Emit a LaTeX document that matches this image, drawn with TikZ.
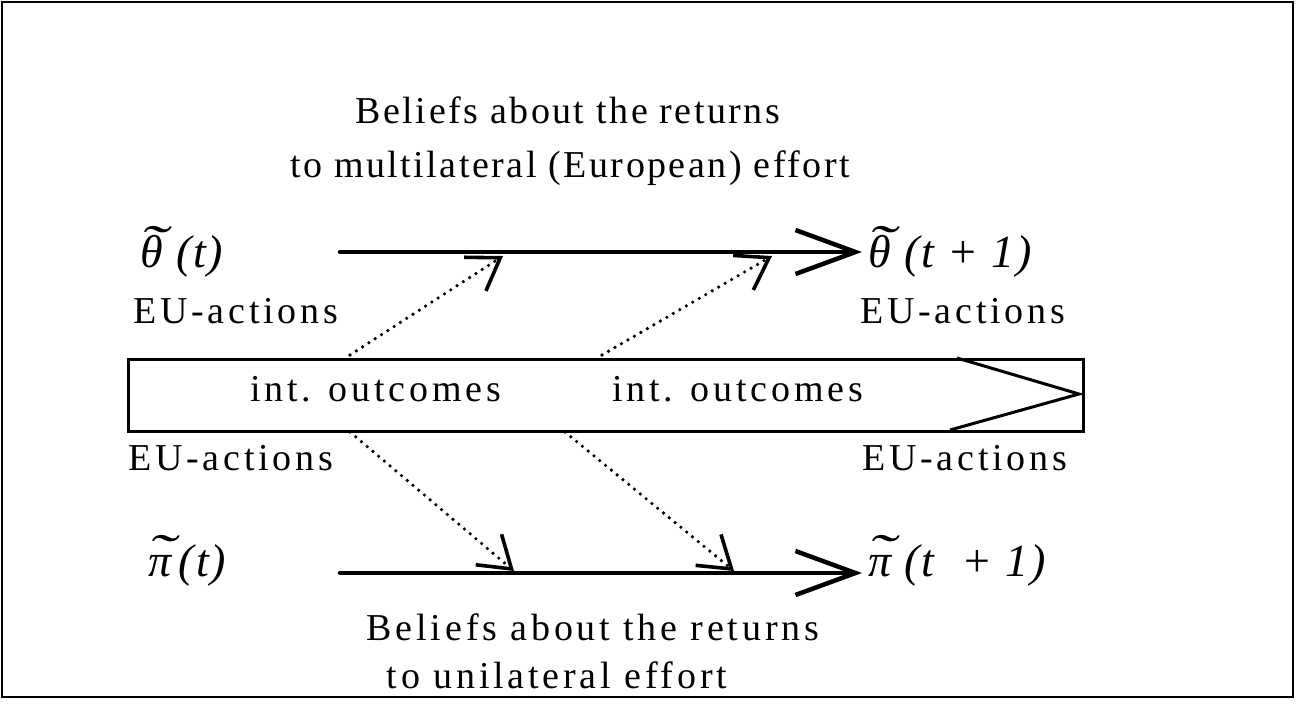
\documentclass[tikz,border=0pt]{standalone}
\usepackage{fontspec}
\setmainfont{Liberation Serif}
\newfontfamily\spc[LetterSpace=10]{Liberation Serif}
\newfontfamily\spcA[LetterSpace=6.5]{Liberation Serif}
\newfontfamily\spcB[LetterSpace=10]{Liberation Serif}
\newfontfamily\spcit[LetterSpace=4]{Liberation Serif Italic}
\usetikzlibrary{arrows.meta}
\newcommand\tld[1]{\ooalign{#1\cr\hidewidth\kern0.08em\raisebox{0.14em}{\scalebox{1.8}[1.1]{\char"02DC}}\hidewidth\cr}}
\tikzset{
  txt/.style={inner sep=0pt, anchor=base west, font=\fontsize{38}{44}\selectfont\spc},
  ctxt/.style={inner sep=0pt, anchor=base, font=\fontsize{38}{44}\selectfont\spc},
  sym/.style={inner sep=0pt, anchor=base west, font=\fontsize{46}{50}\selectfont\spcit},
  mainarrow/.style={line width=4.5pt, line cap=round, -{Straight Barb[length=60pt,width=44pt]}},
  dotarrow/.style={line width=3.6pt, line cap=round, dash pattern=on 0pt off 7.5pt,
     -{Straight Barb[length=30pt,width=40pt]}},
  bigbox/.style={draw, line width=3pt, inner sep=0pt}
}
\begin{document}
\begin{tikzpicture}[x=1pt,y=-1pt]
\useasboundingbox (0,0) rectangle (1296,716);
% frame
\draw[line width=2.5pt] (2,2) rectangle (1293,697);
% top texts
\node[ctxt, font=\fontsize{38}{44}\selectfont\spcA] (t1) at (568,123) {Beliefs about the returns};
\node[ctxt, font=\fontsize{38}{44}\selectfont\spcA] (t2) at (570,177) {to multilateral (European) effort};
\node[sym] (th0) at (140,267) {\tld{θ} (t)};
\node[sym] (th1) at (868,267) {\tld{θ} (t {\upshape +} 1)};
\node[txt] (eu1) at (133,323) {EU-actions};
\node[txt] (eu2) at (860,323) {EU-actions};
% box
\node[bigbox, minimum width=955pt, minimum height=72pt, anchor=north west] (box) at (127,358) {};
\coordinate (bx1) at (957,358);
\coordinate (bxt) at (1079,394);
\coordinate (bx2) at (950,430);
\draw[line width=3pt, line join=miter] (bx1) -- (bxt) -- (bx2);
\node[txt] (io1) at (250,401) {int. outcomes};
\node[txt] (io2) at (612,401) {int. outcomes};
\node[txt] (eu3) at (128,470) {EU-actions};
\node[txt] (eu4) at (862,470) {EU-actions};
% bottom
\node[sym] (pi0) at (148,576) {\tld{π}\,(t)};
\node[sym] (pi1) at (868,576) {\tld{π} (t\ \ {\upshape +} 1)};
\node[ctxt, font=\fontsize{38}{44}\selectfont\spcB] (b1) at (593,640) {Beliefs about the returns};
\node[ctxt, font=\fontsize{38}{44}\selectfont\spcB] (b2) at (557,688) {to unilateral effort};
% main arrows
\coordinate (a1s) at (340,252);
\coordinate (a1e) at (862,252);
\coordinate (a2s) at (340,573);
\coordinate (a2e) at (862,573);
\draw[mainarrow] (a1s) -- (a1e);
\draw[mainarrow] (a2s) -- (a2e);
% dotted influences
\coordinate (u1s) at (350,355);
\coordinate (u1e) at (503,256);
\coordinate (u2s) at (602,355);
\coordinate (u2e) at (772,256);
\coordinate (d1s) at (350,432);
\coordinate (d1e) at (514,571);
\coordinate (d2s) at (565,432);
\coordinate (d2e) at (734,571);
\draw[dotarrow] (u1s) -- (u1e);
\draw[dotarrow] (u2s) -- (u2e);
\draw[dotarrow] (d1s) -- (d1e);
\draw[dotarrow] (d2s) -- (d2e);
\end{tikzpicture}
\end{document}
